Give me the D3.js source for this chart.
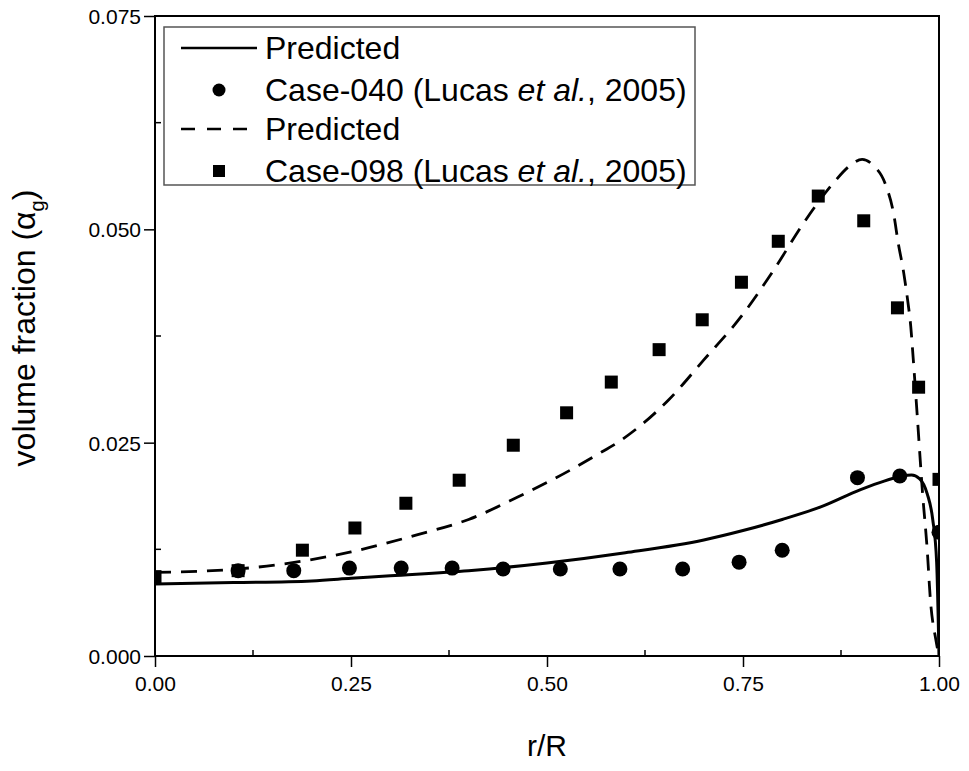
<!DOCTYPE html>
<html>
<head>
<meta charset="utf-8">
<script src="https://cdn.jsdelivr.net/npm/d3@7"></script>
<style>
  body { margin: 0; background: #fff; }
  svg { font-family: "Liberation Sans", Arial, sans-serif; }
</style>
</head>
<body>
<div class="content"></div>
<script>
// data
var case040R = [0.106, 0.177, 0.248, 0.314, 0.379, 0.444, 0.517, 0.593, 0.673, 0.745, 0.800, 0.896, 0.950, 1.0];
var case040A = [0.0100, 0.0100, 0.0103, 0.0103, 0.0103, 0.0102, 0.0102, 0.0102, 0.0102, 0.0110, 0.0124, 0.0209, 0.0211, 0.0145];

var case098R = [0.0, 0.106, 0.188, 0.255, 0.320, 0.388, 0.457, 0.525, 0.582, 0.643, 0.698, 0.748, 0.795, 0.846, 0.904, 0.947, 0.974, 1.0];
var case098A = [0.0093, 0.0100, 0.0124, 0.0150, 0.0179, 0.0206, 0.0247, 0.0285, 0.0321, 0.0359, 0.0394, 0.0438, 0.0486, 0.0539, 0.0510, 0.0408, 0.0315, 0.0207];

var pred040R = [0, 0.1, 0.2, 0.25, 0.3, 0.4, 0.5, 0.6, 0.7, 0.75, 0.8, 0.85, 0.9, 0.93, 0.95, 0.965, 0.975, 0.985, 0.992, 0.997, 1.0];
var pred040A = [0.00844, 0.0086, 0.0088, 0.0091, 0.0094, 0.0100, 0.0109, 0.0121, 0.0136, 0.0147, 0.0160, 0.0175, 0.0195, 0.0205, 0.0210, 0.0212, 0.0208, 0.0190, 0.0160, 0.0110, 0.0];

var pred098R = [0, 0.106, 0.25, 0.334, 0.4, 0.462, 0.53, 0.564, 0.593, 0.655, 0.70, 0.747, 0.789, 0.827, 0.865, 0.887, 0.902, 0.916, 0.932, 0.942, 0.948, 0.955, 0.960, 0.964, 0.967, 0.972, 0.979, 0.985, 0.989, 0.996, 1.0];
var pred098A = [0.0098, 0.0102, 0.0122, 0.0142, 0.0160, 0.0186, 0.0218, 0.0236, 0.0252, 0.0300, 0.0347, 0.0397, 0.0452, 0.0507, 0.0554, 0.0575, 0.0582, 0.0575, 0.0552, 0.0519, 0.0484, 0.0449, 0.0417, 0.0386, 0.0350, 0.0285, 0.0191, 0.0124, 0.0066, 0.0019, 0.0];

var xTicks = [0, 0.25, 0.5, 0.75, 1.0];
var yTicks = [0, 0.025, 0.05, 0.075];

function zip(a, b) { return a.map(function(d, i) { return [d, b[i]]; }); }

// set the dimensions and margins of the graph
var margin = {top: 16, right: 30, bottom: 115, left: 155},
    width = 969 - margin.left - margin.right,
    height = 771 - margin.top - margin.bottom;

var svg = d3.select(".content")
    .append("svg")
    .attr("width", 969)
    .attr("height", 771)
    .append("g")
    .attr("transform", "translate(" + margin.left + "," + margin.top + ")");

var x = d3.scaleLinear().domain([0, 1]).range([0, width]);
var y = d3.scaleLinear().domain([0, 0.075]).range([height, 0]);

svg.append("clipPath").attr("id", "clip")
    .append("rect").attr("width", width).attr("height", height);

// minor ticks (inward)
var xMinor = [0.125, 0.375, 0.625, 0.875];
var yMinor = [0.0125, 0.0375, 0.0625];
svg.selectAll(".xminor").data(xMinor).enter().append("line")
    .attr("x1", function(d) { return x(d); }).attr("x2", function(d) { return x(d); })
    .attr("y1", height).attr("y2", height - 6)
    .attr("stroke", "#000").attr("stroke-width", 1.5);
svg.selectAll(".yminor").data(yMinor).enter().append("line")
    .attr("y1", function(d) { return y(d); }).attr("y2", function(d) { return y(d); })
    .attr("x1", 0).attr("x2", 6)
    .attr("stroke", "#000").attr("stroke-width", 1.5);

// Add X axis
var xAxis = svg.append("g")
    .attr("transform", "translate(0," + height + ")")
    .call(d3.axisBottom(x).tickValues(xTicks).tickFormat(d3.format(".2f")).tickSize(11).tickSizeOuter(0).tickPadding(9));
// Add Y axis
var yAxis = svg.append("g")
    .call(d3.axisLeft(y).tickValues(yTicks).tickFormat(d3.format(".3f")).tickSize(11).tickSizeOuter(0).tickPadding(3));

[xAxis, yAxis].forEach(function(a) {
    a.select(".domain").remove();
    a.selectAll("line").attr("stroke", "#000").attr("stroke-width", 1.5);
    a.selectAll("text").attr("font-size", 21).attr("fill", "#000")
        .attr("font-family", "Liberation Sans, Arial, sans-serif");
});
yAxis.selectAll("text").attr("dy", "0.35em");

// frame
svg.append("rect")
    .attr("width", width).attr("height", height)
    .attr("fill", "none").attr("stroke", "#000").attr("stroke-width", 2);

var plot = svg.append("g").attr("clip-path", "url(#clip)");

var line = d3.line()
    .x(function(d) { return x(d[0]); })
    .y(function(d) { return y(d[1]); })
    .curve(d3.curveMonotoneX);

plot.append("path")
    .datum(zip(pred040R, pred040A))
    .attr("fill", "none").attr("stroke", "#000").attr("stroke-width", 3)
    .attr("d", line);

plot.append("path")
    .datum(zip(pred098R, pred098A))
    .attr("fill", "none").attr("stroke", "#000").attr("stroke-width", 2.8)
    .attr("stroke-dasharray", "16,10")
    .attr("d", line);

plot.selectAll(".c040").data(zip(case040R, case040A)).enter().append("circle")
    .attr("cx", function(d) { return x(d[0]); })
    .attr("cy", function(d) { return y(d[1]); })
    .attr("r", 7.5).attr("fill", "#000");

var sq = 13;
plot.selectAll(".c098").data(zip(case098R, case098A)).enter().append("rect")
    .attr("x", function(d) { return x(d[0]) - sq / 2; })
    .attr("y", function(d) { return y(d[1]) - sq / 2; })
    .attr("width", sq).attr("height", sq).attr("fill", "#000");

// legend
var legend = svg.append("g").attr("transform", "translate(9,11)");
legend.append("rect")
    .attr("width", 531).attr("height", 158)
    .attr("fill", "#fff").attr("stroke", "#555").attr("stroke-width", 1.5);

var legendRows = [
    {kind: "solid", label: "Predicted"},
    {kind: "circle", label: "Case-040 (Lucas ", it: "et al.", rest: ", 2005)"},
    {kind: "dash", label: "Predicted"},
    {kind: "square", label: "Case-098 (Lucas ", it: "et al.", rest: ", 2005)"}
];
var rowY = [21, 63, 102, 144];
legendRows.forEach(function(r, i) {
    var g = legend.append("g").attr("transform", "translate(0," + rowY[i] + ")");
    if (r.kind === "solid") {
        g.append("line").attr("x1", 17).attr("x2", 93).attr("stroke", "#000").attr("stroke-width", 2.5);
    } else if (r.kind === "dash") {
        g.append("line").attr("x1", 17).attr("x2", 93).attr("stroke", "#000").attr("stroke-width", 2.5)
            .attr("stroke-dasharray", "14,12");
    } else if (r.kind === "circle") {
        g.append("circle").attr("cx", 55).attr("r", 6.5).attr("fill", "#000");
    } else {
        g.append("rect").attr("x", 49).attr("y", -6).attr("width", 12).attr("height", 12).attr("fill", "#000");
    }
    var t = g.append("text").attr("x", 101).attr("dy", "0.35em").attr("font-size", 32).attr("fill", "#000");
    t.append("tspan").text(r.label);
    if (r.it) {
        t.append("tspan").attr("font-style", "italic").text(r.it);
        t.append("tspan").text(r.rest);
    }
});

// axis titles
svg.append("text")
    .attr("x", width / 2).attr("y", height + 100)
    .attr("text-anchor", "middle").attr("font-size", 30).attr("fill", "#000")
    .text("r/R");

var yt = svg.append("text")
    .attr("transform", "translate(-120," + (height / 2 - 8) + ") rotate(-90)")
    .attr("text-anchor", "middle").attr("font-size", 32).attr("fill", "#000");
yt.append("tspan").text("volume fraction (\u03b1");
yt.append("tspan").attr("font-size", 20).attr("dy", 9).text("g");
yt.append("tspan").attr("dy", -9).text(")");
</script>
</body>
</html>
